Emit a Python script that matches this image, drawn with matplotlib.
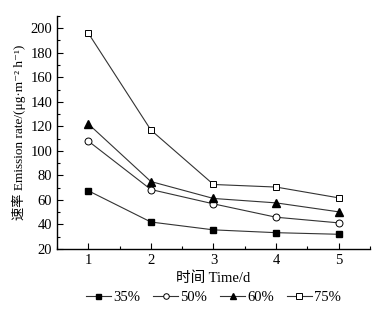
import matplotlib
matplotlib.use('Agg')
import matplotlib.pyplot as plt
from matplotlib.ticker import MultipleLocator

plt.rcParams['font.family'] = ['Liberation Serif', 'Noto Sans CJK SC', 'DejaVu Serif']

# 数据
days = [1, 2, 3, 4, 5]
r35 = [67.5, 42, 35.6, 33.3, 32]
r50 = [108, 68.5, 56.8, 45.9, 41.3]
r60 = [122, 75, 61.2, 57.6, 50.3]
r75 = [196, 117, 72.6, 70.5, 61.7]

fig = plt.figure(figsize=(3.89, 3.13), dpi=100)
ax = fig.add_axes([0.1465, 0.2045, 0.8045, 0.7445])

lc = '#333333'
ax.plot(days, r35, color=lc, lw=0.8, marker='s', ms=4.5, mfc='black', mec='black', label='35%')
ax.plot(days, r50, color=lc, lw=0.8, marker='o', ms=5, mfc='white', mec='black', mew=0.7, label='50%')
ax.plot(days, r60, color=lc, lw=0.8, marker='^', ms=5.5, mfc='black', mec='black', label='60%')
ax.plot(days, r75, color=lc, lw=0.8, marker='s', ms=5, mfc='white', mec='black', mew=0.7, label='75%')

ax.set_xlim(0.5, 5.5)
ax.set_ylim(20, 210)
ax.xaxis.set_major_locator(MultipleLocator(1))
ax.xaxis.set_minor_locator(MultipleLocator(0.5))
ax.yaxis.set_major_locator(MultipleLocator(20))
ax.yaxis.set_minor_locator(MultipleLocator(10))
ax.tick_params(which='both', direction='in', labelsize=10.5, width=0.8)
ax.tick_params(which='major', length=4)
ax.tick_params(which='minor', length=2.5)
for s in ['top', 'right']:
    ax.spines[s].set_visible(False)
for s in ['left', 'bottom']:
    ax.spines[s].set_linewidth(1.0)

ax.set_xlabel('时间 Time/d', fontsize=10.5, labelpad=3)
ax.set_ylabel('速率 Emission rate/(μg·m⁻² h⁻¹)', fontsize=9.5, labelpad=3)

ax.legend(loc='upper center', bbox_to_anchor=(0.5, -0.125), ncol=4, frameon=False,
          fontsize=10.5, handlelength=1.7, handletextpad=0.15, columnspacing=0.9,
          markerscale=0.8)

plt.savefig('out.png', dpi=100)
